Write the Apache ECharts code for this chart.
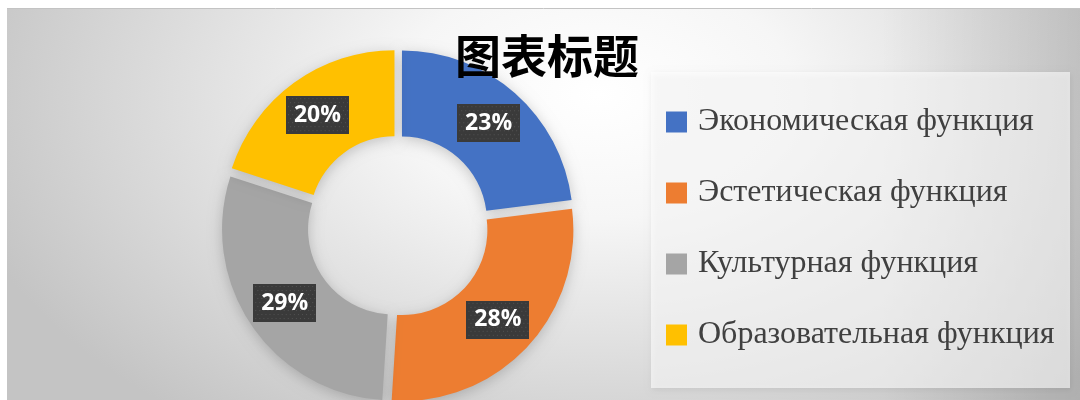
<!DOCTYPE html>
<html>
<head>
<meta charset="utf-8">
<script src="https://cdn.jsdelivr.net/npm/echarts@6/dist/echarts.min.js"></script>
<style>html,body{margin:0;padding:0;background:#fff;}#main{width:1080px;height:400px;}</style>
</head>
<body>
<div id="main"></div>
<script>
const titleText = '图表标题';
const categories = ['Экономическая функция', 'Эстетическая функция', 'Культурная функция', 'Образовательная функция'];
const values = [23, 28, 29, 20];
const colors = ['#4472C4', '#ED7D31', '#A5A5A5', '#FFC000'];

// dotted dark texture for the data-label boxes
const tex = document.createElement('canvas');
tex.width = 62; tex.height = 38;
(function () {
  const c = tex.getContext('2d');
  c.fillStyle = '#3a3a3a';
  c.fillRect(0, 0, 62, 38);
  c.fillStyle = '#525252';
  for (let y = 2; y < 38; y += 4) {
    for (let x = (y % 8 === 2 ? 2 : 4); x < 62; x += 4) c.fillRect(x, y, 1, 1);
  }
})();

const chart = echarts.init(document.getElementById('main'), null, {renderer: 'canvas'});
const bgScale = 1.6;
chart.setOption({
  animation: false,
  backgroundColor: '#ffffff',
  color: colors,
  graphic: [
    {
      type: 'rect', x: 7, y: 9, scaleX: bgScale, silent: true, z: 0,
      shape: {x: 0, y: 0, width: 1073 / bgScale, height: 391},
      style: {
        fill: new echarts.graphic.RadialGradient(0.55, 0.22, 1.05, [
          {offset: 0, color: '#ffffff'},
          {offset: 0.3, color: '#f6f6f6'},
          {offset: 1, color: '#c4c4c4'}
        ])
      }
    },
    {
      type: 'rect', x: 880, y: 9, silent: true, z: 0,
      shape: {x: 0, y: 0, width: 200, height: 391},
      style: {
        fill: new echarts.graphic.LinearGradient(0, 0, 1, 0, [
          {offset: 0, color: 'rgba(0,0,0,0)'},
          {offset: 1, color: 'rgba(0,0,0,0.1)'}
        ])
      }
    },
    {
      type: 'line', silent: true, z: 1,
      shape: {x1: 7, y1: 8.5, x2: 1080, y2: 8.5},
      style: {stroke: '#c3c3c3', lineWidth: 1}
    },
    {
      type: 'rect', x: 651, y: 72, silent: true, z: 1,
      shape: {x: 0, y: 0, width: 419, height: 316},
      style: {
        fill: 'rgba(255,255,255,0.6)',
        shadowBlur: 6, shadowColor: 'rgba(0,0,0,0.12)', shadowOffsetX: 1, shadowOffsetY: 2
      }
    }
  ],
  title: {
    text: titleText,
    left: 455, top: 33, padding: 0,
    textStyle: {fontFamily: 'Noto Sans CJK SC', fontSize: 46, fontWeight: 'bold', color: '#000'}
  },
  legend: {
    orient: 'vertical',
    left: 666, top: 102, padding: 0,
    itemWidth: 21, itemHeight: 21, itemGap: 31,
    icon: 'rect',
    data: categories,
    textStyle: {fontFamily: 'Liberation Serif', fontSize: 32, color: '#404040', lineHeight: 40, padding: [0, 0, 0, 6]}
  },
  series: [{
    type: 'pie',
    center: [398, 226],
    radius: [85, 171],
    startAngle: 90,
    clockwise: true,
    selectedMode: 'multiple',
    selectedOffset: 6,
    avoidLabelOverlap: false,
    emphasis: {scale: false},
    itemStyle: {shadowBlur: 14, shadowColor: 'rgba(0,0,0,0.2)', shadowOffsetY: 3},
    label: {
      show: true, position: 'inside',
      formatter: '{c}%',
      color: '#ffffff', fontFamily: 'Open Sans', fontSize: 23, fontWeight: 'bold', lineHeight: 26,
      backgroundColor: {image: tex},
      padding: [6, 8, 6, 8],
      shadowBlur: 5, shadowOffsetX: 2, shadowOffsetY: 3, shadowColor: 'rgba(0,0,0,0.45)'
    },
    labelLine: {show: false},
    data: categories.map((n, i) => ({name: n, value: values[i], selected: true}))
  }]
});
</script>
</body>
</html>
